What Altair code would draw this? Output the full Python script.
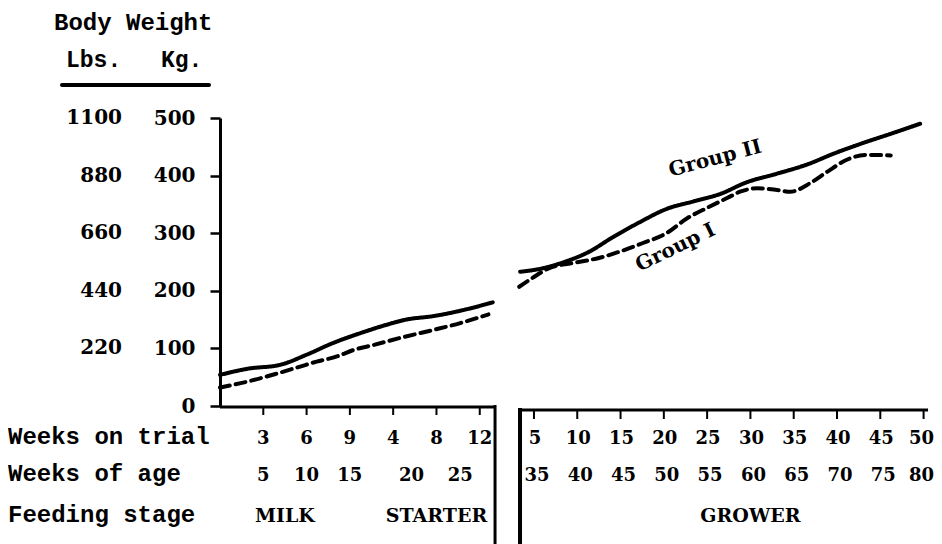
import altair as alt
import pandas as pd

# ---------------- data ----------------
# Group II (solid) -- weeks within each feeding stage, body weight in kg
G2_MILK_WEEKS = [0, 2.0, 4.1, 6.0, 7.8]
G2_MILK_KG = [54, 65, 71, 89, 109]
G2_STARTER_WEEKS = [0.9, 3.4, 5.2, 7.7, 10.8, 13.2]
G2_STARTER_KG = [126, 141, 150, 156, 168, 180]
G2_GROWER_WEEKS = [3.4, 6.0, 8.7, 11.4, 14.1, 17.2, 20.3, 23.4, 26.5, 29.5, 33.0, 36.5, 39.6, 42.7, 46.1, 49.6]
G2_GROWER_KG = [233, 239, 251, 268, 293, 319, 342, 355, 368, 388, 403, 419, 438, 455, 472, 490]

# Group I (dashed)
G1_MILK_WEEKS = [0, 2.0, 3.9, 5.5, 6.7, 8.1]
G1_MILK_KG = [32, 43, 56, 68, 77, 86]
G1_STARTER_WEEKS = [0.3, 2.2, 4.6, 7.7, 10.2, 12.8]
G1_STARTER_KG = [97, 106, 118, 132, 144, 159]
G1_GROWER_WEEKS = [3.3, 4.8, 6.7, 9.4, 12.5, 14.9, 17.6, 20.3, 22.7, 25.0, 27.3, 28.8, 30.8, 33.1, 34.6, 36.9, 38.9, 41.2, 43.5, 46.2]
G1_GROWER_KG = [207, 222, 239, 248, 257, 268, 283, 300, 326, 344, 361, 372, 378, 375, 372, 387, 407, 428, 436, 435]

# axis labels
KG_TICKS = [0, 100, 200, 300, 400, 500]
LBS_TICKS = [220, 440, 660, 880, 1100]
MILK_TRIAL_TICKS = [3, 6, 9]
STARTER_TRIAL_TICKS = [4, 8, 12]
GROWER_TRIAL_TICKS = [5, 10, 15, 20, 25, 30, 35, 40, 45, 50]
LEFT_AGE_LABELS = [5, 10, 15, 20, 25]
LEFT_AGE_PHASE = ["milk", "milk", "milk", "starter", "starter"]
LEFT_AGE_AT_WEEK = [3, 6, 9, 5.7, 10.2]
GROWER_AGE_LABELS = [35, 40, 45, 50, 55, 60, 65, 70, 75, 80]
STAGES = ["MILK", "STARTER", "GROWER"]
STAGE_PHASE = ["milk", "starter", "grower"]
STAGE_AT_WEEK = [4.5, 8, 30]
ROW_LABELS = ["Weeks on trial", "Weeks of age", "Feeding stage"]
GROUP_LABELS = ["Group II", "Group I"]
GROUP_LABEL_WEEK = [20.8, 17.2]
GROUP_LABEL_KG = [398, 233]

# ---------------- tables ----------------
rows = []
for grp, parts in [
    ("Group II", [("milk", "left", G2_MILK_WEEKS, G2_MILK_KG),
                  ("starter", "left", G2_STARTER_WEEKS, G2_STARTER_KG),
                  ("grower", "right", G2_GROWER_WEEKS, G2_GROWER_KG)]),
    ("Group I", [("milk", "left", G1_MILK_WEEKS, G1_MILK_KG),
                 ("starter", "left", G1_STARTER_WEEKS, G1_STARTER_KG),
                 ("grower", "right", G1_GROWER_WEEKS, G1_GROWER_KG)]),
]:
    n = 0
    for phase, block, wks, kgs in parts:
        for w, k in zip(wks, kgs):
            rows.append({"group": grp, "seg": grp + "-" + block, "phase": phase,
                         "week": w, "kg": k, "ord": n})
            n += 1
lines_df = pd.DataFrame(rows)

ticks_df = pd.DataFrame(
    [{"phase": "milk", "week": w} for w in MILK_TRIAL_TICKS]
    + [{"phase": "starter", "week": w} for w in STARTER_TRIAL_TICKS]
    + [{"phase": "grower", "week": w} for w in GROWER_TRIAL_TICKS]
)
ticks_df["label"] = ticks_df["week"].astype(str)

age_df = pd.DataFrame(
    [{"phase": p, "week": w, "label": str(a)} for a, p, w in zip(LEFT_AGE_LABELS, LEFT_AGE_PHASE, LEFT_AGE_AT_WEEK)]
    + [{"phase": "grower", "week": w, "label": str(a)} for a, w in zip(GROWER_AGE_LABELS, GROWER_TRIAL_TICKS)]
)
stage_df = pd.DataFrame({"label": STAGES, "phase": STAGE_PHASE, "week": STAGE_AT_WEEK})
lbs_df = pd.DataFrame({"lbs": LBS_TICKS, "label": [str(v) for v in LBS_TICKS]})

# position along the broken time axis (one unit per tick interval)
POS = ("datum.phase == 'milk' ? datum.week / 3 : "
       "(datum.phase == 'starter' ? 3 + datum.week / 4 : 6.252 + datum.week / 5)")

# ---------------- styles ----------------
MONO = "Liberation Mono"
SERIF = "DejaVu Serif"
xscale = alt.Scale(domain=[0, 16.4], nice=False, zero=False)
yscale = alt.Scale(domain=[0, 500], nice=False)
yaxis = alt.Axis(values=KG_TICKS, title=None, grid=False, labelFont=SERIF, labelFontSize=20,
                 labelFontWeight="bold",
                 labelColor="black", labelPadding=15, tickSize=10, tickWidth=2.5,
                 tickColor="black", domainColor="black", domainWidth=3)
xenc = alt.X("pos:Q", scale=xscale, axis=None)
yenc = alt.Y("kg:Q", scale=yscale, axis=yaxis)

ROW_Y = [326, 363, 404]
LEFT_AXIS_Y = 289
RIGHT_AXIS_Y = 292
LEFT_SEP = 6.353
RIGHT_SEP = 6.93
RIGHT_END = 16.355

layers = []

# data lines
layers.append(
    alt.Chart(lines_df).transform_calculate(pos=POS).mark_line(
        color="black", strokeWidth=4, interpolate="monotone", strokeCap="round"
    ).encode(
        x=xenc, y=yenc, detail="seg:N", order="ord:Q",
        strokeDash=alt.StrokeDash("group:N", scale=alt.Scale(domain=["Group II", "Group I"],
                                                             range=[[1, 0], [10, 6]]), legend=None),
    )
)

# axis frame lines
one = pd.DataFrame({"a": [0]})
layers.append(alt.Chart(one).mark_rule(color="black", strokeWidth=3).encode(
    x=alt.XDatum(0, scale=xscale, axis=None), x2=alt.X2Datum(LEFT_SEP), y=alt.value(LEFT_AXIS_Y)))
layers.append(alt.Chart(one).mark_rule(color="black", strokeWidth=3).encode(
    x=alt.XDatum(RIGHT_SEP, scale=xscale, axis=None), x2=alt.X2Datum(RIGHT_END), y=alt.value(RIGHT_AXIS_Y)))
layers.append(alt.Chart(one).mark_rule(color="black", strokeWidth=3).encode(
    x=alt.XDatum(LEFT_SEP, scale=xscale, axis=None), y=alt.value(LEFT_AXIS_Y - 2), y2=alt.value(440)))
layers.append(alt.Chart(one).mark_rule(color="black", strokeWidth=4).encode(
    x=alt.XDatum(RIGHT_SEP, scale=xscale, axis=None), y=alt.value(RIGHT_AXIS_Y - 2), y2=alt.value(440)))

# x ticks
layers.append(alt.Chart(ticks_df).transform_filter("datum.phase != 'grower'").transform_calculate(pos=POS)
              .mark_rule(color="black", strokeWidth=2).encode(
                  x=xenc, y=alt.value(LEFT_AXIS_Y), y2=alt.value(LEFT_AXIS_Y + 8)))
layers.append(alt.Chart(ticks_df).transform_filter("datum.phase == 'grower'").transform_calculate(pos=POS)
              .mark_rule(color="black", strokeWidth=2).encode(
                  x=xenc, y=alt.value(RIGHT_AXIS_Y), y2=alt.value(RIGHT_AXIS_Y + 9)))

# rows 1 and 2: weeks on trial, weeks of age (left panel and grower panel)
for df, ry, gdx in [(ticks_df, ROW_Y[0], 1), (age_df, ROW_Y[1], 3)]:
    for flt, dx in [("datum.phase != 'grower'", 0),
                    ("datum.phase == 'grower' && datum.week < 50", gdx),
                    ("datum.phase == 'grower' && datum.week >= 50", -2)]:
        layers.append(alt.Chart(df).transform_filter(flt).transform_calculate(pos=POS).mark_text(
            font=SERIF, fontSize=18, fontWeight="bold", color="black", align="center",
            baseline="alphabetic", dx=dx).encode(
            x=xenc, y=alt.value(ry), text="label:N"))
# row 3: feeding stage
layers.append(alt.Chart(stage_df).transform_calculate(pos=POS).mark_text(
    font=SERIF, fontSize=19, fontWeight="bold", color="black", align="center", baseline="alphabetic").encode(
    x=xenc, y=alt.value(ROW_Y[2]), text="label:N"))

# row labels
for i, lab in enumerate(ROW_LABELS):
    layers.append(alt.Chart(pd.DataFrame({"t": [lab]})).mark_text(
        font=MONO, fontSize=24, fontWeight="bold", color="black", align="left", baseline="alphabetic").encode(
        x=alt.value(-212), y=alt.value(ROW_Y[i]), text="t:N"))

# Lbs column
layers.append(alt.Chart(lbs_df).transform_calculate(kg="datum.lbs / 2.2").mark_text(
    font=SERIF, fontSize=20, fontWeight="bold", color="black", align="right", baseline="middle").encode(
    x=alt.value(-98), y=yenc, text="label:N"))

# header
layers.append(alt.Chart(pd.DataFrame({"t": ["Body Weight"]})).mark_text(
    font=MONO, fontSize=24, fontWeight="bold", color="black", align="left", baseline="alphabetic").encode(
    x=alt.value(-166), y=alt.value(-88), text="t:N"))
layers.append(alt.Chart(pd.DataFrame({"t": ["Lbs."]})).mark_text(
    font=MONO, fontSize=23, fontWeight="bold", color="black", align="left", baseline="alphabetic").encode(
    x=alt.value(-154), y=alt.value(-51), text="t:N"))
layers.append(alt.Chart(pd.DataFrame({"t": ["Kg."]})).mark_text(
    font=MONO, fontSize=23, fontWeight="bold", color="black", align="left", baseline="alphabetic").encode(
    x=alt.value(-59), y=alt.value(-51), text="t:N"))
layers.append(alt.Chart(one).mark_rule(color="black", strokeWidth=4, strokeCap="round").encode(
    x=alt.value(-158), x2=alt.value(-11), y=alt.value(-33)))

# group labels on the curves
for lab, wk, kg, ang in zip(GROUP_LABELS, GROUP_LABEL_WEEK, GROUP_LABEL_KG, [345, 334]):
    layers.append(alt.Chart(pd.DataFrame({"t": [lab], "phase": ["grower"], "week": [wk], "kg": [kg]}))
                  .transform_calculate(pos=POS).mark_text(
                      font=SERIF, fontSize=20, fontWeight="bold", color="black", align="left",
                      baseline="alphabetic", angle=ang)
                  .encode(x=xenc, y=yenc, text="t:N"))

chart = alt.layer(*layers).properties(
    width=710, height=288,
    padding={"left": 212, "top": 110, "right": 4, "bottom": 138},
    autosize=alt.AutoSizeParams(type="none"),
    background="white",
).configure_view(strokeWidth=0)

chart.save("out.html", embed_options={"renderer": "svg", "actions": False})
